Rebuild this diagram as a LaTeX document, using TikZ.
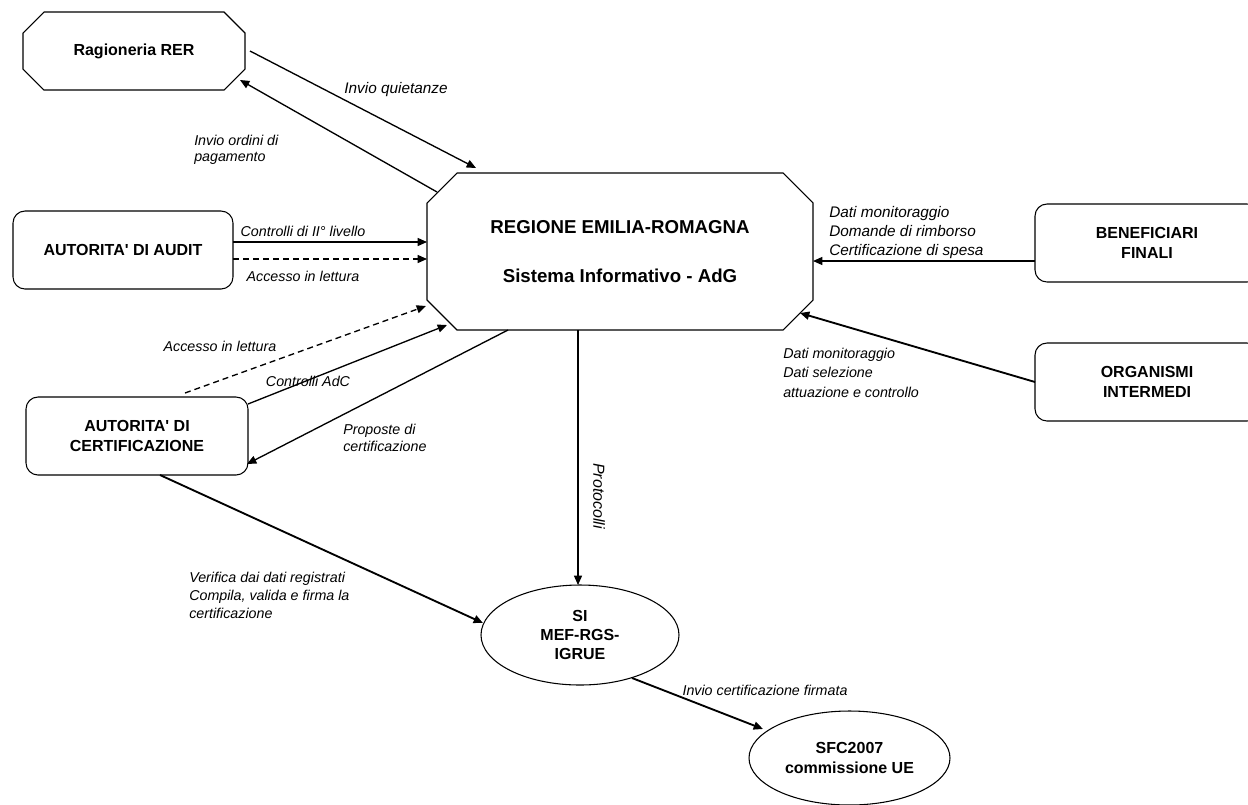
\documentclass[tikz,border=0pt]{standalone}
\usepackage{fontspec}
\setmainfont{Liberation Sans}
\usetikzlibrary{arrows.meta,shapes.geometric}
\tikzset{
  boxline/.style={draw=black,line width=0.8pt},
  plainbox/.style={inner sep=0pt,outer sep=0pt,align=center,font=\bfseries\fontsize{12}{14.5}\selectfont},
  roundbox/.style={plainbox,boxline,rounded corners=9pt,minimum height=58.5pt},
  ellbox/.style={plainbox,boxline,ellipse},
  conn/.style={line width=1pt,-{Triangle[length=7pt,width=6pt]}},
  thickconn/.style={conn,line width=1.4pt},
  dashconn/.style={conn,dash pattern=on 4.5pt off 3pt},
  lbl/.style={inner sep=0pt,font=\itshape\fontsize{10.7}{13.5}\selectfont},
  lblL/.style={lbl,align=left,anchor=west}
}
\newcommand\octpath[2]{\draw[boxline] ([xshift=#2]#1.north west) -- ([xshift=-#2]#1.north east) -- ([yshift=-#2]#1.north east) -- ([yshift=#2]#1.south east) -- ([xshift=-#2]#1.south east) -- ([xshift=#2]#1.south west) -- ([yshift=#2]#1.south west) -- ([yshift=-#2]#1.north west) -- cycle;}
\begin{document}
\begin{tikzpicture}[x=0.75pt,y=-0.75pt]
\useasboundingbox (0,0) rectangle (1248,804);
\clip (0,0) rectangle (1248,804);
\fill[white] (0,0) rectangle (1248,804);

% nodes
\node[plainbox,minimum width=166.5pt,minimum height=58.5pt] (rer) at (134,51) {Ragioneria RER};
\octpath{rer}{15.75pt}
\node[plainbox,minimum width=289.5pt,minimum height=117.75pt,font=\bfseries\fontsize{14}{17}\selectfont] (reg) at (620,251.5) {REGIONE EMILIA-ROMAGNA\\[19.75pt]Sistema Informativo - AdG};
\octpath{reg}{22.5pt}
\node[roundbox,minimum width=165pt] (audit) at (123,250) {AUTORITA\textquotesingle{} DI AUDIT};
\node[roundbox,minimum width=166.5pt] (cert) at (137,436) {AUTORITA\textquotesingle{} DI\\CERTIFICAZIONE};
\node[roundbox,minimum width=168pt] (benef) at (1147,243) {BENEFICIARI\\FINALI};
\node[roundbox,minimum width=168pt] (org) at (1147,382) {ORGANISMI\\INTERMEDI};
\node[ellbox,minimum width=148.5pt,minimum height=75pt] (si) at (580,635) {SI\\MEF-RGS-\\IGRUE};
\node[ellbox,minimum width=150.75pt,minimum height=70.5pt] (sfc) at (849.5,758) {SFC2007\\commissione UE};

% connectors
\draw[conn] ([xshift=3.75pt]rer.east) -- ([xshift=36.75pt,yshift=3.75pt]reg.north west);
\draw[conn] ([xshift=7.5pt,yshift=-14.25pt]reg.north west) -- ([xshift=-3.75pt,yshift=-21.75pt]rer.east);
\draw[conn] ([yshift=6pt]audit.east) -- ([yshift=6pt]audit.east -| reg.west);
\draw[dashconn] ([yshift=-6.75pt]audit.east) -- ([yshift=-6.75pt]audit.east -| reg.west);
\draw[dashconn] ([xshift=36pt,yshift=3pt]cert.north) -- ([xshift=-0.75pt,yshift=18pt]reg.south west);
\draw[conn] ([yshift=-5.25pt]cert.north east) -- ([xshift=15pt,yshift=3.75pt]reg.south west);
\draw[conn] ([xshift=60.75pt]reg.south west) -- ([xshift=-0.75pt,yshift=-21pt]cert.east);
\draw[conn] ([yshift=-13.5pt]benef.west) -- ([yshift=-13.5pt]benef.west -| reg.east);
\draw[thickconn] (org.west) -- ([xshift=-9.75pt,yshift=12.75pt]reg.south east);
\draw[conn] ([xshift=-31.5pt]reg.south) -- ([xshift=-31.5pt]reg.south |- si.north);
\draw[thickconn] ([xshift=17.25pt]cert.south) -- ([xshift=1.5pt,yshift=9pt]si.west);
\draw[thickconn] ([xshift=39pt,yshift=5.25pt]si.south) -- ([xshift=10.5pt,yshift=21.75pt]sfc.west);

% labels
\node[lbl,font=\itshape\fontsize{11.5}{14}\selectfont] (l1) at (396,90) {Invio quietanze};
\node[lblL,font=\itshape\fontsize{10.7}{12}\selectfont] (l2) at (194,150) {Invio ordini di\\pagamento};
\node[lbl] (l3) at (303,231) {Controlli di II° livello};
\node[lbl] (l4) at (303,276) {Accesso in lettura};
\node[lbl] (l5) at (220,346) {Accesso in lettura};
\node[lbl] (l6) at (308,381) {Controlli AdC};
\node[lblL,font=\itshape\fontsize{10.7}{12.75}\selectfont] (l7) at (343,437.5) {Proposte di\\certificazione};
\node[lblL,font=\itshape\fontsize{11.5}{14.6}\selectfont] (l8) at (829,232.5) {Dati monitoraggio\\Domande di rimborso\\Certificazione di spesa};
\node[lblL,font=\itshape\fontsize{10.7}{14.6}\selectfont] (l9) at (783,372.5) {Dati monitoraggio\\Dati selezione\\attuazione e controllo};
\node[lbl,rotate=-90,font=\itshape\fontsize{12}{14}\selectfont] (l10) at (599,496) {Protocolli};
\node[lblL] (l11) at (189,595) {Verifica dai dati registrati\\Compila, valida e firma la\\certificazione};
\node[lbl] (l12) at (765,690) {Invio certificazione firmata};
\end{tikzpicture}
\end{document}
